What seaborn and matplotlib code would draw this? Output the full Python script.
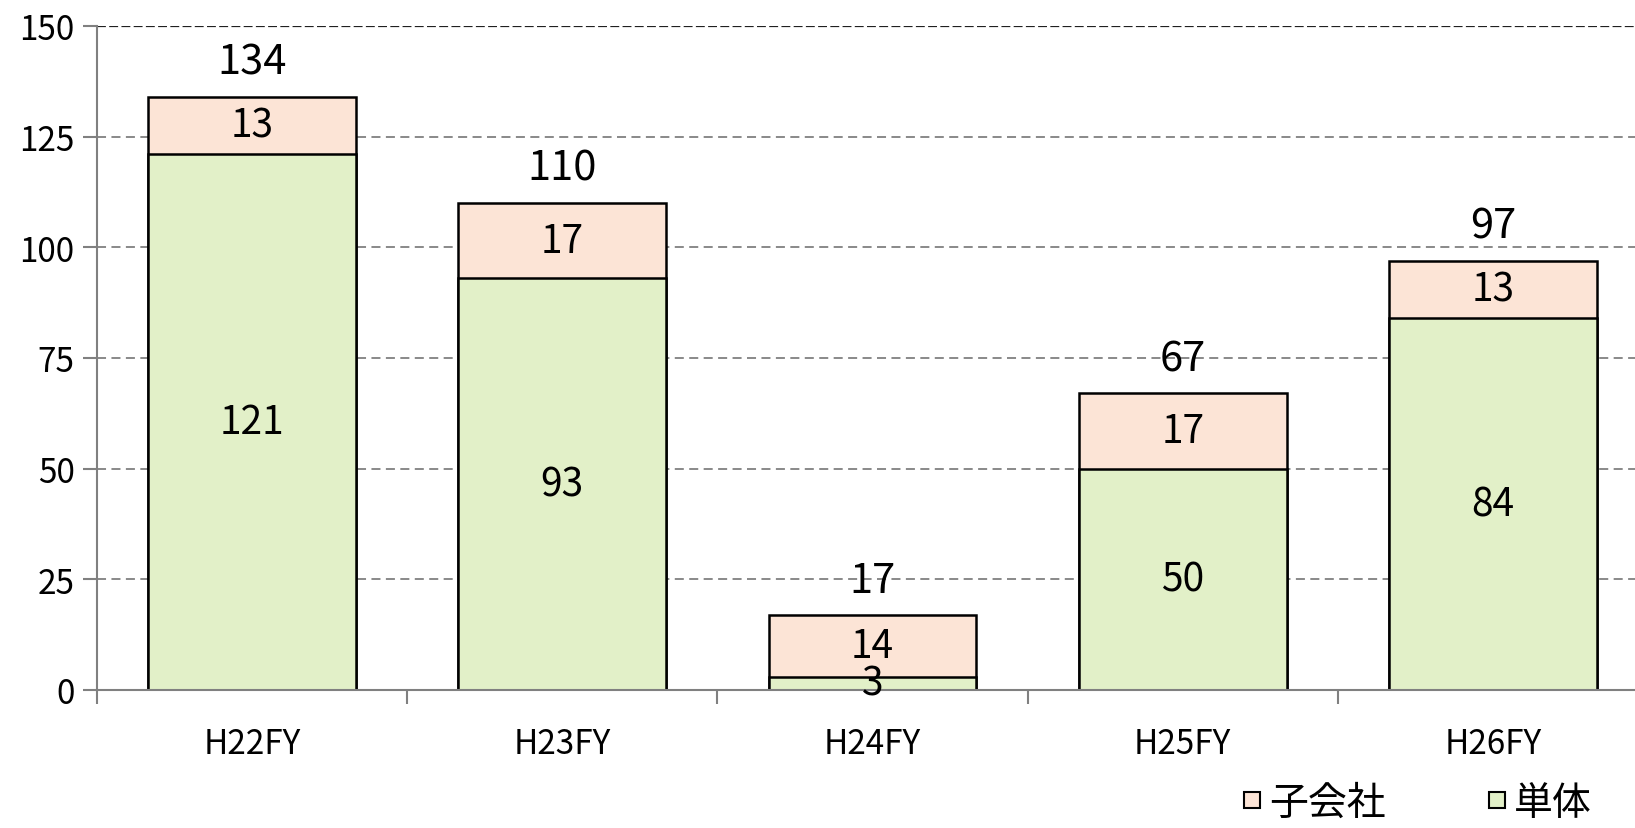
import matplotlib
matplotlib.use("Agg")
import matplotlib.pyplot as plt
import seaborn as sns
import pandas as pd
import numpy as np
from matplotlib.lines import Line2D

# values
years = ["H22FY", "H23FY", "H24FY", "H25FY", "H26FY"]
tandoku = [121, 93, 3, 50, 84]      # 単体
kogaisha = [13, 17, 14, 17, 13]     # 子会社
yticks = [0, 25, 50, 75, 100, 125, 150]

totals = [a + b for a, b in zip(tandoku, kogaisha)]
df = pd.DataFrame({"year": years, "単体": tandoku, "子会社": kogaisha, "total": totals})

sns.set_style("white")
plt.rcParams["font.family"] = ["Noto Sans CJK JP", "DejaVu Sans"]
plt.rcParams["text.color"] = "black"
plt.rcParams["xtick.color"] = "black"
plt.rcParams["ytick.color"] = "black"

peach = "#FCE4D6"
green = "#E2F0C8"

fig = plt.figure(figsize=(16.35, 8.29), dpi=100)
ax = fig.add_axes([0.0593, 0.1665, 0.9487, 0.801])

# stacked bars: draw total (子会社 colour) first, then 単体 over it
sns.barplot(data=df, x="year", y="total", color=peach, edgecolor="black",
            linewidth=1.8, width=0.67, saturation=1, ax=ax)
sns.barplot(data=df, x="year", y="単体", color=green, edgecolor="black",
            linewidth=1.8, width=0.67, saturation=1, ax=ax)

ax.set_ylim(0, 150)
ax.set_xlim(-0.5, 4.5)
ax.set_yticks(yticks)
ax.set_xlabel("")
ax.set_ylabel("")

# gridlines
for y in yticks[1:-1]:
    ax.axhline(y, color="#808080", linestyle=(0, (5, 3)), linewidth=1.3, zorder=0)
ax.axhline(150, color="#202020", linestyle=(0, (4, 1.5)), linewidth=1.6, zorder=0)

for side in ["top", "right"]:
    ax.spines[side].set_visible(False)
for side in ["left", "bottom"]:
    ax.spines[side].set_color("#808080")
    ax.spines[side].set_linewidth(1.5)

ax.tick_params(axis="y", which="major", length=10, width=1.5, color="#808080",
               labelsize=24, labelcolor="black", direction="out", left=True, pad=6)
ax.set_xticks(range(len(years)))
ax.set_xticklabels(years)
ax.tick_params(axis="x", which="major", length=0, labelsize=24, labelcolor="black", pad=26)
ax.set_xticks(np.arange(-0.5, len(years), 1), minor=True)
ax.tick_params(axis="x", which="minor", length=10, width=1.5, color="#808080",
               bottom=True, direction="out")

# labels
for i in range(len(years)):
    ax.text(i, tandoku[i] / 2, str(tandoku[i]), ha="center", va="center", fontsize=28)
    ax.text(i, tandoku[i] + kogaisha[i] / 2, str(kogaisha[i]), ha="center",
            va="center", fontsize=28)
    ax.text(i, totals[i] + 7.8, str(totals[i]), ha="center", va="center", fontsize=30)

handles = [Line2D([], [], marker="s", linestyle="", markersize=12,
                  markerfacecolor=peach, markeredgecolor="black", markeredgewidth=1.5),
           Line2D([], [], marker="s", linestyle="", markersize=12,
                  markerfacecolor=green, markeredgecolor="black", markeredgewidth=1.5)]
fig.legend(handles, ["子会社", "単体"], ncol=2, loc="lower right",
           bbox_to_anchor=(0.995, -0.036), frameon=False, fontsize=28,
           handletextpad=0.1, columnspacing=2.5, handlelength=0.7)

fig.savefig("out.png", dpi=100)
